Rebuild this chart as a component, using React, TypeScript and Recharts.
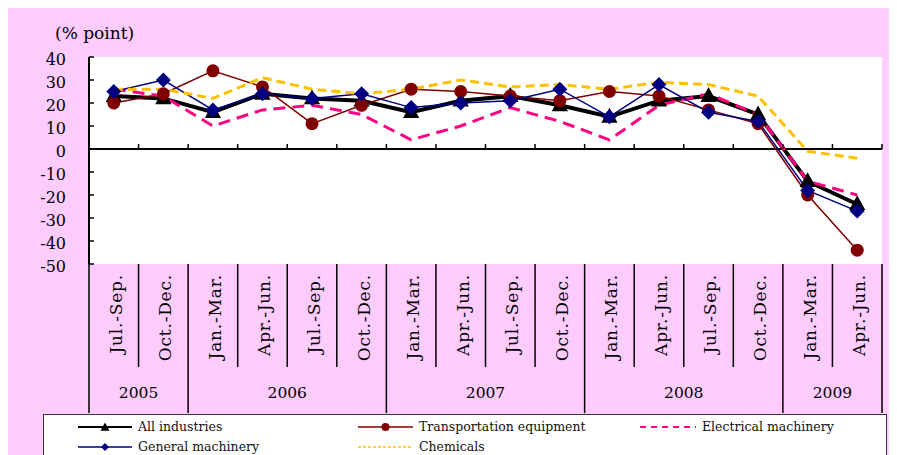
import { LineChart, Line, XAxis, YAxis, ReferenceLine, Legend } from 'recharts';

// Quarterly DI change (% point) by industry, Jul.-Sep. 2005 to Apr.-Jun. 2009
const quarters = [
  'Jul.-Sep.', 'Oct.-Dec.',
  'Jan.-Mar.', 'Apr.-Jun.', 'Jul.-Sep.', 'Oct.-Dec.',
  'Jan.-Mar.', 'Apr.-Jun.', 'Jul.-Sep.', 'Oct.-Dec.',
  'Jan.-Mar.', 'Apr.-Jun.', 'Jul.-Sep.', 'Oct.-Dec.',
  'Jan.-Mar.', 'Apr.-Jun.',
];
const years = [
  '2005', '2005',
  '2006', '2006', '2006', '2006',
  '2007', '2007', '2007', '2007',
  '2008', '2008', '2008', '2008',
  '2009', '2009',
];
const allIndustries = [23, 22, 16, 24, 22, 21, 16, 21, 23, 19, 14, 21, 23, 15, -14, -24];
const transportation = [20, 24, 34, 27, 11, 19, 26, 25, 23, 21, 25, 23, 17, 11, -20, -44];
const electrical = [26, 23, 10, 17, 19, 15, 4, 10, 18, 12, 4, 19, 24, 15, -14, -20];
const general = [25, 30, 17, 24, 22, 24, 18, 20, 21, 26, 14, 28, 16, 12, -18, -27];
const chemicals = [26, 26, 22, 31, 26, 24, 26, 30, 27, 28, 26, 29, 28, 23, -1, -4];
const yTicks = [40, 30, 20, 10, 0, -10, -20, -30, -40, -50];

const data = quarters.map((q, i) => ({
  q,
  all: allIndustries[i],
  trans: transportation[i],
  elec: electrical[i],
  gen: general[i],
  chem: chemicals[i],
}));

const FONT = '"DejaVu Serif", "Liberation Serif", serif';
const W = 889;
const H = 447;
const MARGIN = { top: 49, right: 15, bottom: 42, left: 0 };
const Y_AXIS_W = 81;
const X_AXIS_H = 149;
const AXIS_X = MARGIN.left + Y_AXIS_W;
const PLOT_W = W - MARGIN.left - MARGIN.right - Y_AXIS_W;
const PLOT_H = H - MARGIN.top - MARGIN.bottom - X_AXIS_H;
const BAND = PLOT_W / quarters.length;
const PLOT_BOTTOM = MARGIN.top + PLOT_H;
const AXIS_BOTTOM = PLOT_BOTTOM + X_AXIS_H;
const QUARTER_BOTTOM = PLOT_BOTTOM + 103;
const Y_MIN = -50;
const Y_MAX = 40;
const ZERO_Y = MARGIN.top + (PLOT_H * Y_MAX) / (Y_MAX - Y_MIN);

const Triangle = ({ cx, cy, size = 8, fill = '#000' }: any) => (
  <polygon
    points={`${cx},${cy - size} ${cx - size * 0.9},${cy + size * 0.65} ${cx + size * 0.9},${cy + size * 0.65}`}
    fill={fill}
  />
);
const Diamond = ({ cx, cy, size = 7, fill = '#000080' }: any) => (
  <polygon points={`${cx},${cy - size} ${cx + size},${cy} ${cx},${cy + size} ${cx - size},${cy}`} fill={fill} />
);

const series = [
  { key: 'all', name: 'All industries', color: '#000000', width: 4, dash: undefined, marker: 'triangle' },
  { key: 'trans', name: 'Transportation equipment', color: '#800000', width: 1.5, dash: undefined, marker: 'circle' },
  { key: 'elec', name: 'Electrical machinery', color: '#FF0080', width: 3, dash: '12 7', marker: 'none' },
  { key: 'gen', name: 'General machinery', color: '#000080', width: 1.5, dash: undefined, marker: 'diamond' },
  { key: 'chem', name: 'Chemicals', color: '#FFC000', width: 3, dash: '9 5', marker: 'none' },
];

const renderDot = (marker: string, color: string) => (p: any) => {
  const k = `${marker}-${p.index}`;
  if (marker === 'triangle') return <Triangle key={k} cx={p.cx} cy={p.cy} size={9} fill={color} />;
  if (marker === 'circle') return <circle key={k} cx={p.cx} cy={p.cy} r={6.5} fill={color} />;
  if (marker === 'diamond') return <Diamond key={k} cx={p.cx} cy={p.cy} size={7.5} fill={color} />;
  return <g key={k} />;
};

// value label on the left, short tick pointing into the plot
function ValueTick(props: any) {
  const { y, payload } = props;
  return (
    <g>
      <line x1={AXIS_X} x2={AXIS_X + 5} y1={y} y2={y} stroke="#000" strokeWidth={1.5} />
      <text x={AXIS_X - 23} y={y + 2} dy="0.35em" textAnchor="end" fontSize={16} fill="#000" fontFamily={FONT}>
        {payload.value}
      </text>
    </g>
  );
}

function QuarterTick(props: any) {
  const { x, index, payload } = props;
  const left = x - BAND / 2;
  const right = x + BAND / 2;
  const yearStart = index === 0 || years[index] !== years[index - 1];
  const last = index === quarters.length - 1;
  let yearLabel = null;
  if (yearStart) {
    let n = 1;
    while (index + n < years.length && years[index + n] === years[index]) n++;
    yearLabel = (
      <text x={left + (n * BAND) / 2} y={385} dy="0.35em" textAnchor="middle" fontSize={15.5} fill="#000" fontFamily={FONT}>
        {years[index]}
      </text>
    );
  }
  return (
    <g>
      <line x1={left} x2={left} y1={PLOT_BOTTOM} y2={yearStart ? AXIS_BOTTOM : QUARTER_BOTTOM} stroke="#000" strokeWidth={1.5} />
      {last && <line x1={right} x2={right} y1={PLOT_BOTTOM} y2={AXIS_BOTTOM} stroke="#000" strokeWidth={1.5} />}
      {index > 0 && <line x1={left} x2={left} y1={ZERO_Y} y2={ZERO_Y - 5} stroke="#000" strokeWidth={1.5} />}
      {last && <line x1={right} x2={right} y1={ZERO_Y} y2={ZERO_Y - 5} stroke="#000" strokeWidth={1.5} />}
      <text
        x={x + 2}
        y={266}
        dy="0.35em"
        transform={`rotate(-90 ${x + 2} 266)`}
        textAnchor="end"
        fontSize={17}
        letterSpacing={0.8}
        fill="#000"
        fontFamily={FONT}
      >
        {payload.value}
      </text>
      {yearLabel}
    </g>
  );
}

const legendSlots: Record<string, { row: number; line: number; text: number }> = {
  all: { row: 0, line: 34, text: 94 },
  trans: { row: 0, line: 314, text: 375 },
  elec: { row: 0, line: 596, text: 658 },
  gen: { row: 1, line: 34, text: 94 },
  chem: { row: 1, line: 314, text: 375 },
};

function LegendBox() {
  return (
    <div
      style={{
        position: 'relative',
        width: 844,
        height: 60,
        boxSizing: 'border-box',
        border: '1.5px solid #333',
        background: '#fff',
        fontFamily: FONT,
        fontSize: 12.5,
        color: '#111',
      }}
    >
      {series.map((s) => {
        const slot = legendSlots[s.key];
        const cy = slot.row === 0 ? 12 : 32;
        const lineW = slot.text - slot.line - 6;
        const thin = s.key === 'all' ? 2 : s.dash ? (s.key === 'chem' ? 1.5 : 2) : 1.5;
        const dash = s.key === 'elec' ? '6 5' : s.key === 'chem' ? '3 2' : undefined;
        const mid = lineW / 2;
        return (
          <div key={s.key}>
            <svg style={{ position: 'absolute', left: slot.line, top: cy - 6 }} width={lineW} height={12}>
              <line x1={0} x2={lineW} y1={6} y2={6} stroke={s.color} strokeWidth={thin} strokeDasharray={dash} />
              {s.marker === 'triangle' && <Triangle cx={mid} cy={6.5} size={5} fill={s.color} />}
              {s.marker === 'circle' && <circle cx={mid} cy={6} r={4} fill={s.color} />}
              {s.marker === 'diamond' && <Diamond cx={mid} cy={6} size={4} fill={s.color} />}
            </svg>
            <div style={{ position: 'absolute', left: slot.text, top: cy - 9, lineHeight: '18px', whiteSpace: 'nowrap' }}>
              {s.name}
            </div>
          </div>
        );
      })}
    </div>
  );
}

export default function App() {
  return (
    <div
      style={{
        position: 'relative',
        width: 890,
        height: 448,
        margin: '-1px 0 0 -1px',
        background: '#FFCCFF',
        borderTop: '1px solid #222',
        borderLeft: '1px solid #222',
        boxSizing: 'border-box',
        fontFamily: FONT,
      }}
    >
      {/* white plot panel behind the chart svg */}
      <div
        style={{
          position: 'absolute',
          left: AXIS_X,
          top: MARGIN.top,
          width: PLOT_W,
          height: PLOT_H,
          background: '#fff',
        }}
      />
      <div style={{ position: 'absolute', left: 47, top: 15, fontSize: 17, lineHeight: '20px', color: '#000' }}>
        (% point)
      </div>
      <LineChart width={W} height={H} data={data} margin={MARGIN}>
        <XAxis
          dataKey="q"
          padding={{ left: BAND / 2, right: BAND / 2 }}
          height={X_AXIS_H}
          axisLine={false}
          tickLine={false}
          tickSize={0}
          interval={0}
          tick={<QuarterTick />}
        />
        <YAxis
          domain={[Y_MIN, Y_MAX]}
          ticks={yTicks}
          interval={0}
          width={Y_AXIS_W}
          axisLine={{ stroke: '#000', strokeWidth: 2 }}
          tickLine={false}
          tickSize={0}
          tick={<ValueTick />}
        />
        <ReferenceLine y={0} stroke="#000" strokeWidth={2} />
        {series.map((s) => (
          <Line
            key={s.key}
            dataKey={s.key}
            name={s.name}
            type="linear"
            stroke={s.color}
            strokeWidth={s.width}
            strokeDasharray={s.dash}
            dot={renderDot(s.marker, s.color)}
            activeDot={false}
            isAnimationActive={false}
          />
        ))}
        <Legend
          verticalAlign="middle"
          align="center"
          layout="horizontal"
          wrapperStyle={{ left: 35, top: 406, width: 844, height: 60 }}
          content={() => <LegendBox />}
        />
      </LineChart>
    </div>
  );
}
